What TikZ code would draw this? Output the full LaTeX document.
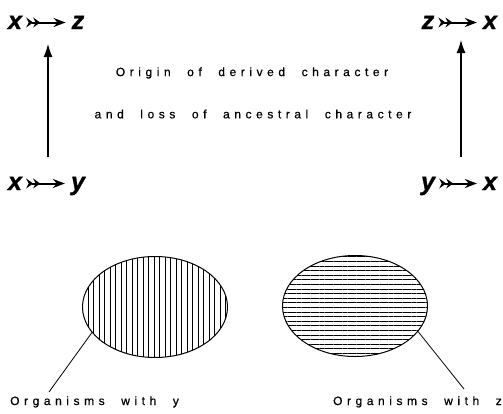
\documentclass[tikz,border=0pt]{standalone}
\usepackage{fontspec}
\setmainfont{Liberation Sans}
\newfontfamily\spacedfont[LetterSpace=38,WordSpace=2.1,FakeBold=0.6]{Liberation Sans}
\newfontfamily\heavyfont[FakeBold=1.2]{Liberation Sans Bold Italic}
\usetikzlibrary{arrows.meta,shapes.geometric,patterns.meta}

\begin{document}
\begin{tikzpicture}[x=1pt,y=-1pt,
    chr/.style={inner sep=1pt, anchor=base, text height=13pt, text depth=0pt,
                font=\fontsize{25}{25}\selectfont\heavyfont},
    caption/.style={inner sep=0pt, font=\fontsize{12}{12}\selectfont\spacedfont},
    fl/.style={{Stealth[reversed,length=7pt,width=10pt,inset=2.5pt,sep=-3pt]Stealth[reversed,length=7pt,width=10pt,inset=2.5pt]}-{Stealth[length=12pt,width=9pt,inset=4pt]},
               line width=2pt, shorten <=6pt, shorten >=5pt},
    up/.style={-{Latex[length=13pt,width=9pt]}, line width=1.2pt},
    set/.style={ellipse, draw, line width=1pt, minimum width=145pt, minimum height=101pt}
  ]
  \useasboundingbox (0,0) rectangle (503,413);
  \node[chr] (xa) at (15,29)  {x};
  \node[chr] (za) at (78,29)  {z};
  \node[chr] (zb) at (428,29) {z};
  \node[chr] (xb) at (490,29) {x};
  \node[chr] (xc) at (15,190) {x};
  \node[chr] (yc) at (78,190) {y};
  \node[chr] (yd) at (428,190) {y};
  \node[chr] (xd) at (490,190) {x};
  \foreach \a/\b in {xa/za, zb/xb, xc/yc, yd/xd}
    \draw[fl] (\a)--(\b);

  \coordinate (l0) at (48,157);
  \coordinate (l1) at (48,44);
  \coordinate (r0) at (461,157);
  \coordinate (r1) at (461,40);
  \draw[up] (l0)--(l1);
  \draw[up] (r0)--(r1);

  \node[caption] (orig) at (252,73)  {Origin of derived character};
  \node[caption] (loss) at (253,114) {and loss of ancestral character};

  \node[set, pattern={Lines[angle=90,distance=5.5pt,line width=0.6pt]}] (ey) at (155,307) {};
  \node[set, pattern={Lines[angle=0,distance=4.6pt,line width=0.6pt]}]  (ez) at (355,306) {};

  \node[caption, anchor=base west] (ly) at (10,405)  {Organisms with y};
  \node[caption, anchor=base east] (lz) at (502,405) {Organisms with z};
  \coordinate (ly0) at (49,392);
  \coordinate (lz0) at (464,389);
  \draw[line width=0.8pt] (ey.202)--(ly0);
  \draw[line width=0.8pt] (ez.338)--(lz0);
\end{tikzpicture}
\end{document}
